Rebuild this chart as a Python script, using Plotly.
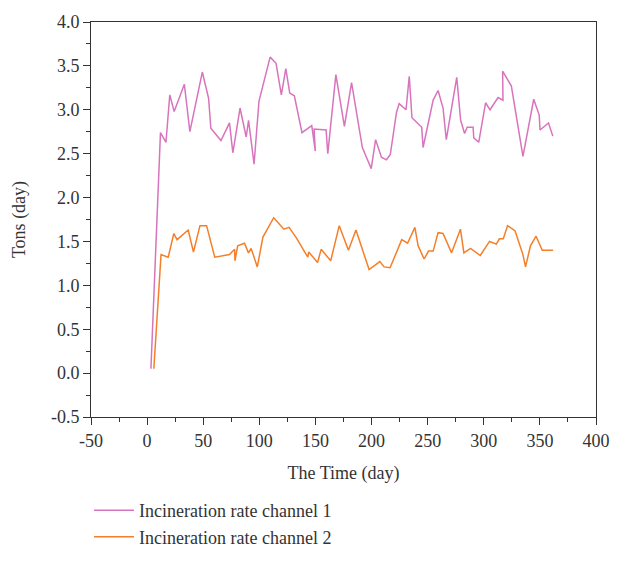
import plotly.graph_objects as go

# Channel 1 (pink)
day1 = [3.4, 11.9, 16.8, 20.2, 24.1, 33.2, 38.1, 49.2, 54.8, 56.8, 65.8, 69.3, 73.4, 76.4,
        82.8, 88.3, 90.4, 95.3, 99.7, 109.6, 114.9, 119.6, 123.6, 127.1, 131.2, 138.0,
        146.7, 149.9, 148.8, 159.5, 161.0, 168.2, 175.8, 182.2, 191.8, 199.7, 203.6,
        208.8, 213.2, 216.7, 222.2, 224.6, 230.7, 233.6, 236.0, 244.7, 245.9, 254.9,
        259.3, 263.7, 266.6, 275.9, 279.4, 282.9, 285.2, 290.5, 291.1, 295.5, 301.6,
        305.6, 312.7, 317.1, 316.8, 324.6, 334.9, 344.5, 349.4, 350.1, 357.7, 361.5]
rate1 = [0.05, 2.74, 2.63, 3.17, 2.98, 3.29, 2.75, 3.43, 3.13, 2.79, 2.65, 2.75, 2.85, 2.51,
         3.02, 2.69, 2.88, 2.38, 3.10, 3.60, 3.53, 3.17, 3.47, 3.19, 3.16, 2.74,
         2.82, 2.53, 2.78, 2.77, 2.50, 3.40, 2.81, 3.31, 2.57, 2.33, 2.66,
         2.46, 2.43, 2.49, 2.97, 3.07, 3.00, 3.38, 2.91, 2.80, 2.57, 3.11,
         3.22, 3.02, 2.66, 3.37, 2.88, 2.73, 2.80, 2.80, 2.68, 2.63, 3.08,
         3.00, 3.14, 3.11, 3.44, 3.27, 2.47, 3.12, 2.94, 2.77, 2.85, 2.70]

# Channel 2 (orange)
day2 = [6.0, 12.4, 18.8, 23.8, 26.7, 36.6, 41.3, 47.1, 53.0, 60.3, 73.4, 78.0, 78.3, 80.7,
        86.8, 90.3, 92.7, 98.2, 103.2, 112.8, 121.9, 126.5, 133.0, 143.2, 144.0, 151.9,
        155.1, 163.6, 171.2, 179.4, 186.1, 197.8, 207.4, 211.2, 216.5, 226.9, 232.1,
        238.6, 241.5, 246.8, 250.8, 254.9, 259.3, 263.7, 271.3, 279.2, 282.3, 288.2,
        296.9, 305.1, 311.2, 313.9, 317.4, 321.2, 327.9, 334.9, 337.2, 341.6, 346.6,
        352.1, 361.8]
rate2 = [0.05, 1.35, 1.32, 1.59, 1.52, 1.63, 1.38, 1.68, 1.68, 1.32, 1.35, 1.41, 1.28, 1.45,
         1.48, 1.37, 1.42, 1.21, 1.55, 1.77, 1.64, 1.66, 1.54, 1.32, 1.38, 1.26,
         1.41, 1.28, 1.68, 1.40, 1.63, 1.18, 1.27, 1.21, 1.20, 1.52, 1.48,
         1.66, 1.45, 1.30, 1.39, 1.39, 1.60, 1.59, 1.37, 1.64, 1.37, 1.42,
         1.34, 1.50, 1.47, 1.53, 1.53, 1.68, 1.62, 1.35, 1.21, 1.45, 1.56,
         1.40, 1.40]

# Tick labels (hyphen minus as in the reference)
x_ticks = [-50, 0, 50, 100, 150, 200, 250, 300, 350, 400]
x_labels = ["-50", "0", "50", "100", "150", "200", "250", "300", "350", "400"]
y_ticks = [-0.5, 0.0, 0.5, 1.0, 1.5, 2.0, 2.5, 3.0, 3.5, 4.0]
y_labels = ["-0.5", "0.0", "0.5", "1.0", "1.5", "2.0", "2.5", "3.0", "3.5", "4.0"]

FONT = "Liberation Serif"
TXT = "#333333"
fig = go.Figure()
fig.add_trace(go.Scatter(x=day1, y=rate1, mode="lines", name="Incineration rate channel 1",
                         line=dict(color="#d874bd", width=1.5)))
fig.add_trace(go.Scatter(x=day2, y=rate2, mode="lines", name="Incineration rate channel 2",
                         line=dict(color="#f47f2a", width=1.5)))

axis_common = dict(showline=True, linecolor=TXT, linewidth=1, mirror=True,
                   ticks="outside", ticklen=7, tickcolor=TXT, showgrid=False, zeroline=False,
                   tickfont=dict(family=FONT, size=18, color=TXT))
fig.update_xaxes(range=[-50, 400], tickvals=x_ticks, ticktext=x_labels,
                 title=dict(text="The Time (day)", font=dict(family=FONT, size=18, color=TXT), standoff=16),
                 minor=dict(dtick=25, tick0=0, ticks="outside", ticklen=4, tickcolor=TXT),
                 **axis_common)
fig.update_yaxes(range=[-0.5, 4.0], tickvals=y_ticks, ticktext=y_labels,
                 title=dict(text="Tons (day)", font=dict(family=FONT, size=18, color=TXT), standoff=20),
                 minor=dict(dtick=0.25, tick0=0, ticks="outside", ticklen=4, tickcolor=TXT),
                 **axis_common)
fig.update_layout(
    width=622, height=567,
    margin=dict(l=91, r=17, t=16, b=138),
    plot_bgcolor="white", paper_bgcolor="white",
    showlegend=True,
    legend=dict(x=-0.004, xanchor="left", y=-0.19, yanchor="top",
                font=dict(family=FONT, size=18, color=TXT), itemwidth=40,
                bgcolor="rgba(0,0,0,0)", tracegroupgap=0),
)
fig.write_html("out.html")
